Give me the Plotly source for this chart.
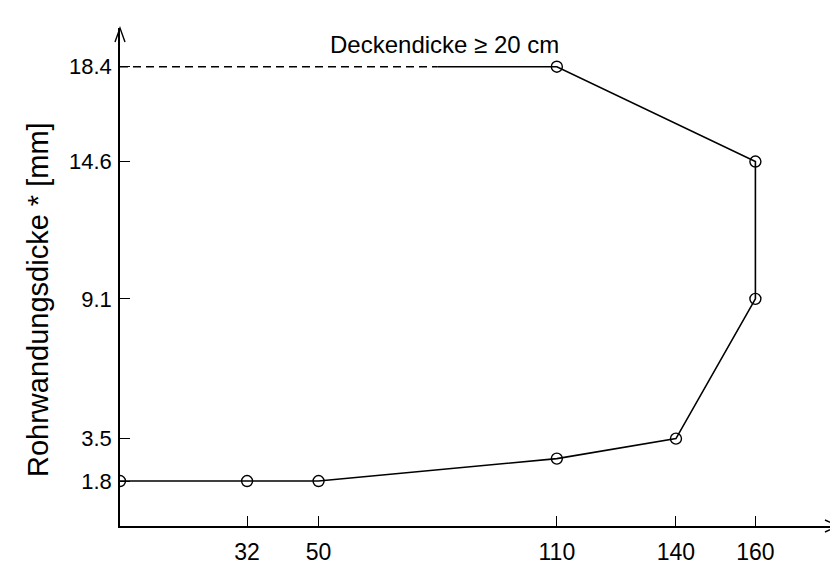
import plotly.graph_objects as go

# Data
x_points = [0, 32, 50, 110, 140, 160, 160, 110]
y_points = [1.8, 1.8, 1.8, 2.7, 3.5, 9.1, 14.6, 18.4]
x_solid = [80, 110, 160, 160, 140, 110, 50, 32, 0]
y_solid = [18.4, 18.4, 14.6, 9.1, 3.5, 2.7, 1.8, 1.8, 1.8]
x_dash = [0, 80]
y_dash = [18.4, 18.4]
x_ticks = [32, 50, 110, 140, 160]
y_ticks = [1.8, 3.5, 9.1, 14.6, 18.4]
y_title = "Rohrwandungsdicke * [mm]"
note = "Deckendicke ≥ 20 cm"

FONT = "Arial"
X_MAX = 180.8
Y_MAX = 19.95

fig = go.Figure()
fig.add_trace(go.Scatter(x=x_dash, y=y_dash, mode="lines",
                         line=dict(color="black", width=1.4, dash="8px,5px"),
                         hoverinfo="skip"))
fig.add_trace(go.Scatter(x=x_solid, y=y_solid, mode="lines",
                         line=dict(color="black", width=1.6), hoverinfo="skip"))
fig.add_trace(go.Scatter(x=x_points, y=y_points, mode="markers",
                         marker=dict(symbol="circle-open", size=11, color="black",
                                     line=dict(width=1.4, color="black"))))

# page body has an 8px margin, so the figure is 830x556 placed at (8, 8)
fig.update_layout(
    width=830, height=556,
    margin=dict(l=112, r=0, t=20, b=38, autoexpand=False),
    paper_bgcolor="white", plot_bgcolor="white",
    showlegend=False,
    font=dict(family=FONT, color="black"),
    xaxis=dict(range=[0, X_MAX], tickvals=x_ticks, ticktext=[str(v) for v in x_ticks],
               showgrid=False, zeroline=False, showline=True, linecolor="black",
               linewidth=1.5, ticks="inside", ticklen=10, tickwidth=1.2,
               tickcolor="black", tickfont=dict(size=23, family=FONT),
               ticklabelstandoff=5, automargin=False),
    yaxis=dict(range=[0, Y_MAX], tickvals=y_ticks, ticktext=[str(v) for v in y_ticks],
               showgrid=False, zeroline=False, showline=True, linecolor="black",
               linewidth=1.5, ticks="inside", ticklen=10, tickwidth=1.2,
               tickcolor="black", tickfont=dict(size=22, family=FONT),
               ticklabelstandoff=2, automargin=False),
)

# Arrow heads at the axis ends (paper refs so they are not clipped)
fig.add_shape(type="path", xref="paper", yref="paper", xsizemode="pixel", ysizemode="pixel",
              xanchor=0, yanchor=1, path="M -5,-14 L 0,0 L 5,-14",
              line=dict(color="black", width=1.4))
fig.add_shape(type="path", xref="paper", yref="paper", xsizemode="pixel", ysizemode="pixel",
              xanchor=1, yanchor=0, path="M -13,6 L 0,0 L -13,-6",
              line=dict(color="black", width=1.4))

fig.add_annotation(x=81.8, y=19.3, xref="x", yref="y", text=note, showarrow=False,
                   font=dict(size=24, family=FONT), xanchor="center", yanchor="middle")
fig.add_annotation(x=(38 - 120) / 718, y=(526 - 300) / 498, xref="paper", yref="paper",
                   text=y_title, showarrow=False, textangle=-90,
                   font=dict(size=29, family=FONT), xanchor="center", yanchor="middle")

fig.write_html("out.html")
